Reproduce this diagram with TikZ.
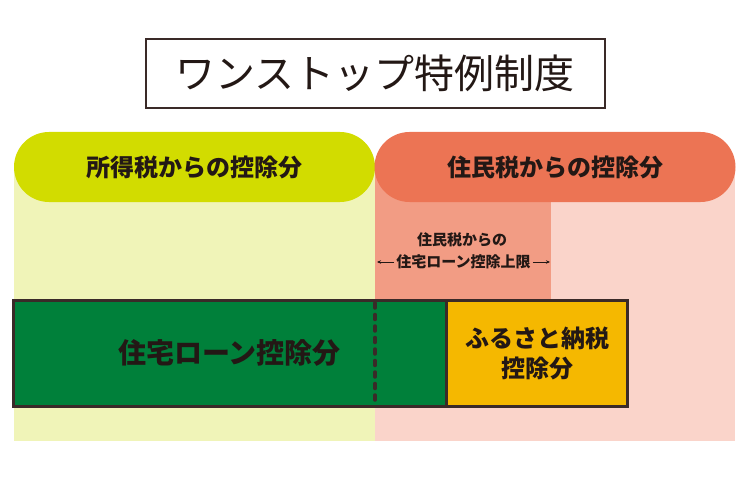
\documentclass[tikz,border=0pt]{standalone}
\usepackage{fontspec}
\setmainfont{Noto Sans CJK JP}
\usetikzlibrary{arrows.meta}

\definecolor{frame}{HTML}{3A2A28}
\definecolor{ink}{HTML}{231815}
\definecolor{limegreen}{HTML}{D2DC00}
\definecolor{palelime}{HTML}{F0F4B8}
\definecolor{coral}{HTML}{EC7454}
\definecolor{salmon}{HTML}{F29C84}
\definecolor{palepink}{HTML}{FAD4CA}
\definecolor{loangreen}{HTML}{00803A}
\definecolor{gold}{HTML}{F5B800}

\begin{document}
\begin{tikzpicture}[
				x=1pt,y=-1pt,
				pill/.style={
					rectangle,
					rounded corners=35pt,
					minimum width=361pt,
					minimum height=70pt,
					text=ink,
					font=\fontsize{24}{26}\selectfont\bfseries
				},
				block/.style={
					draw=frame,
					line width=3pt,
					rectangle,
					align=center,
					minimum height=106pt,
					text=ink
				},
				caption/.style={inner sep=0pt,text=ink,font=\fontsize{15}{18}\selectfont\bfseries},
				limit/.style={-{Stealth[length=4pt,width=3.5pt]},ink,line width=0.8pt},
				cut/.style={frame,line width=3.5pt,line cap=round,dash pattern=on 5pt off 6.5pt}
				]
				\useasboundingbox (0,0) rectangle (750,500);
				
				% backgrounds
				\fill[palelime] (14,166) rectangle (374.5,441);
				\fill[palepink] (374.5,166) rectangle (735,441);
				\fill[salmon] (374.5,166) rectangle (551,300);
				
				\node[draw=frame,line width=2pt,minimum width=459pt,minimum height=69pt,
					text=ink,font=\fontsize{40}{44}\selectfont] (title) at (375,73.5) {ワンストップ特例制度};
				
				\node[pill,fill=limegreen] (income) at (194.5,167) {所得税からの控除分};
				\node[pill,fill=coral] (resident) at (555,167) {住民税からの控除分};
				
				\node[caption] (cap) at (462,240) {住民税からの};
				\node[caption] (cap2) at (463.5,262) {住宅ローン控除上限};
				\coordinate (limL) at (377,262);
				\coordinate (limR) at (550,262);
				\draw[limit] ([xshift=-2pt]cap2.west) -- (limL);
				\draw[limit] ([xshift=2pt]cap2.east) -- (limR);
				
				\node[block,fill=loangreen,minimum width=433pt,
					font=\fontsize{28}{32}\selectfont\bfseries] (loan) at (229.5,353) {住宅ローン控除分};
				\node[block,fill=gold,minimum width=181pt,
					font=\fontsize{24}{30}\selectfont\bfseries] (furusato) at (537,353) {ふるさと納税\\控除分};
				
				\coordinate (cutT) at (375,303);
				\coordinate (cutB) at (375,404);
				\draw[cut] (cutT) -- (cutB);
			\end{tikzpicture}
\end{document}
